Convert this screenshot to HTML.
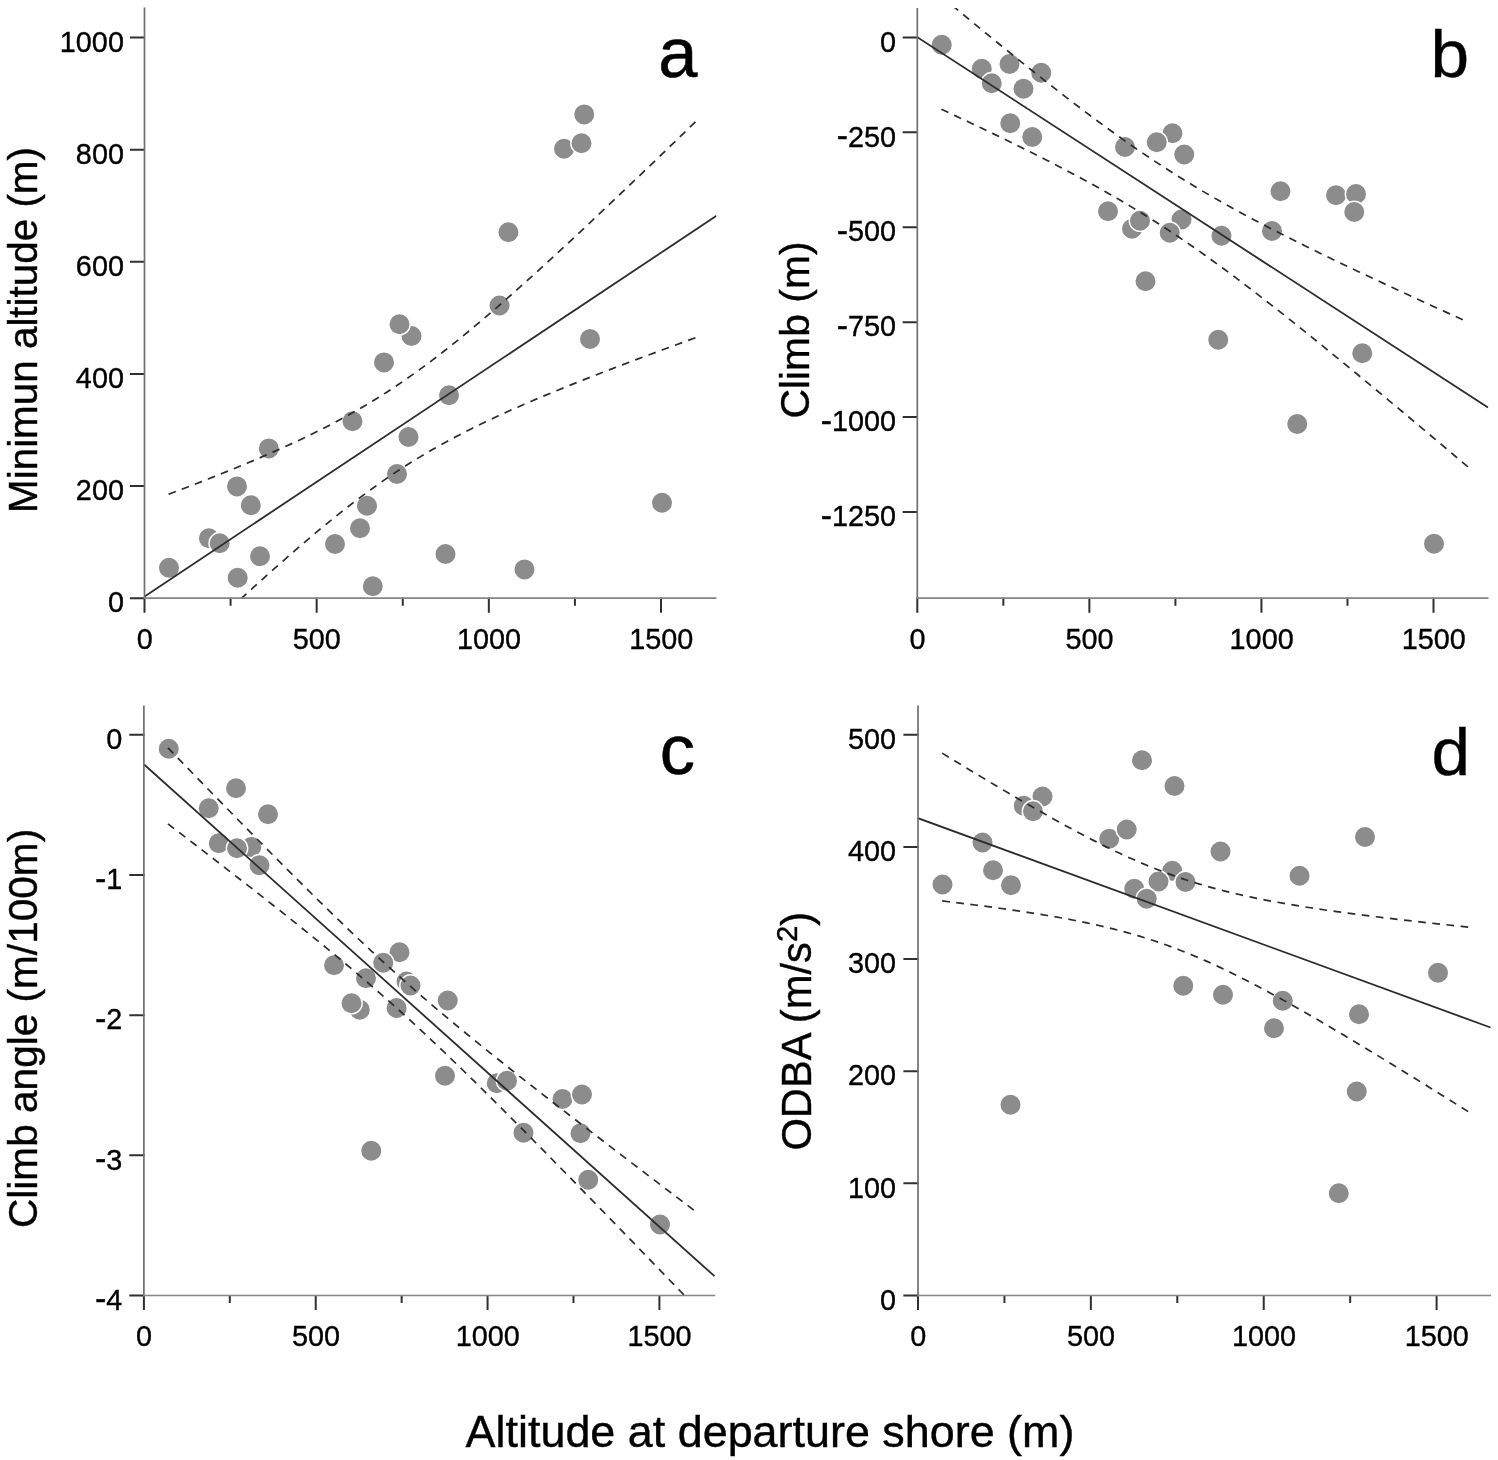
<!DOCTYPE html>
<html lang="en"><head><meta charset="utf-8"><title>Figure</title>
<style>html,body{margin:0;padding:0;background:#fff}svg{display:block}text{font-family:"Liberation Sans", Arial, Helvetica, sans-serif;fill:#000}</style></head><body>
<svg width="1498" height="1460" viewBox="0 0 1498 1460">
<rect width="1498" height="1460" fill="#fff"/>
<g id="panel-a">
<clipPath id="clip-a"><rect x="144.5" y="7.6" width="571.9" height="590.6"/></clipPath>
<g>
<circle cx="169" cy="567.7" r="10.7" fill="#8c8c8c" stroke="#fff" stroke-width="1.4"/>
<circle cx="208.9" cy="538.2" r="10.7" fill="#8c8c8c" stroke="#fff" stroke-width="1.4"/>
<circle cx="219.7" cy="543.2" r="10.7" fill="#8c8c8c" stroke="#fff" stroke-width="1.4"/>
<circle cx="237" cy="486.4" r="10.7" fill="#8c8c8c" stroke="#fff" stroke-width="1.4"/>
<circle cx="250.8" cy="505.2" r="10.7" fill="#8c8c8c" stroke="#fff" stroke-width="1.4"/>
<circle cx="237.7" cy="577.7" r="10.7" fill="#8c8c8c" stroke="#fff" stroke-width="1.4"/>
<circle cx="260" cy="556.2" r="10.7" fill="#8c8c8c" stroke="#fff" stroke-width="1.4"/>
<circle cx="268.8" cy="448.4" r="10.7" fill="#8c8c8c" stroke="#fff" stroke-width="1.4"/>
<circle cx="335" cy="544" r="10.7" fill="#8c8c8c" stroke="#fff" stroke-width="1.4"/>
<circle cx="360" cy="528.2" r="10.7" fill="#8c8c8c" stroke="#fff" stroke-width="1.4"/>
<circle cx="367" cy="505.7" r="10.7" fill="#8c8c8c" stroke="#fff" stroke-width="1.4"/>
<circle cx="372.8" cy="586.2" r="10.7" fill="#8c8c8c" stroke="#fff" stroke-width="1.4"/>
<circle cx="352.5" cy="421.2" r="10.7" fill="#8c8c8c" stroke="#fff" stroke-width="1.4"/>
<circle cx="397" cy="474" r="10.7" fill="#8c8c8c" stroke="#fff" stroke-width="1.4"/>
<circle cx="408.5" cy="437" r="10.7" fill="#8c8c8c" stroke="#fff" stroke-width="1.4"/>
<circle cx="384" cy="362.4" r="10.7" fill="#8c8c8c" stroke="#fff" stroke-width="1.4"/>
<circle cx="411.5" cy="336" r="10.7" fill="#8c8c8c" stroke="#fff" stroke-width="1.4"/>
<circle cx="399.5" cy="324.2" r="10.7" fill="#8c8c8c" stroke="#fff" stroke-width="1.4"/>
<circle cx="449" cy="395.2" r="10.7" fill="#8c8c8c" stroke="#fff" stroke-width="1.4"/>
<circle cx="445.5" cy="554" r="10.7" fill="#8c8c8c" stroke="#fff" stroke-width="1.4"/>
<circle cx="499.5" cy="305.5" r="10.7" fill="#8c8c8c" stroke="#fff" stroke-width="1.4"/>
<circle cx="508.4" cy="232.2" r="10.7" fill="#8c8c8c" stroke="#fff" stroke-width="1.4"/>
<circle cx="564" cy="148.7" r="10.7" fill="#8c8c8c" stroke="#fff" stroke-width="1.4"/>
<circle cx="581.5" cy="143.2" r="10.7" fill="#8c8c8c" stroke="#fff" stroke-width="1.4"/>
<circle cx="584.25" cy="114.4" r="10.7" fill="#8c8c8c" stroke="#fff" stroke-width="1.4"/>
<circle cx="590" cy="339" r="10.7" fill="#8c8c8c" stroke="#fff" stroke-width="1.4"/>
<circle cx="524.5" cy="569.4" r="10.7" fill="#8c8c8c" stroke="#fff" stroke-width="1.4"/>
<circle cx="662" cy="502.7" r="10.7" fill="#8c8c8c" stroke="#fff" stroke-width="1.4"/>
</g>
<g clip-path="url(#clip-a)" fill="none" stroke="#2b2b2b">
<line x1="144.6" y1="596.4" x2="716.5" y2="215.8" stroke-width="1.8"/>
<path d="M168.6 494.31L175.19 491.8L181.77 489.28L188.36 486.74L194.94 484.18L201.53 481.61L208.12 479.02L214.7 476.4L221.29 473.77L227.87 471.11L234.46 468.42L241.04 465.71L247.63 462.97L254.21 460.19L260.8 457.39L267.38 454.54L273.97 451.65L280.55 448.73L287.14 445.75L293.73 442.72L300.31 439.65L306.9 436.51L313.48 433.31L320.07 430.04L326.65 426.7L333.24 423.29L339.82 419.79L346.41 416.21L352.99 412.54L359.58 408.77L366.16 404.91L372.75 400.95L379.34 396.87L385.92 392.7L392.51 388.41L399.09 384.01L405.68 379.51L412.26 374.9L418.85 370.18L425.43 365.35L432.02 360.43L438.6 355.4L445.19 350.29L451.77 345.08L458.36 339.79L464.95 334.42L471.53 328.98L478.12 323.46L484.7 317.88L491.29 312.24L497.87 306.54L504.46 300.79L511.04 294.99L517.63 289.14L524.21 283.25L530.8 277.32L537.38 271.36L543.97 265.36L550.56 259.33L557.14 253.27L563.73 247.18L570.31 241.07L576.9 234.94L583.48 228.78L590.07 222.6L596.65 216.41L603.24 210.19L609.82 203.96L616.41 197.72L622.99 191.46L629.58 185.19L636.16 178.9L642.75 172.6L649.34 166.3L655.92 159.98L662.51 153.65L669.09 147.31L675.68 140.97L682.26 134.61L688.85 128.25L695.43 121.88" stroke-width="1.7" stroke-dasharray="7.7 6.311"/>
<path d="M168.6 666.54L175.19 660.28L181.77 654.04L188.36 647.82L194.94 641.61L201.53 635.42L208.12 629.24L214.7 623.09L221.29 616.96L227.87 610.86L234.46 604.78L241.04 598.72L247.63 592.7L254.21 586.71L260.8 580.75L267.38 574.83L273.97 568.95L280.55 563.12L287.14 557.33L293.73 551.59L300.31 545.9L306.9 540.28L313.48 534.71L320.07 529.21L326.65 523.79L333.24 518.44L339.82 513.17L346.41 507.98L352.99 502.89L359.58 497.89L366.16 492.99L372.75 488.19L379.34 483.49L385.92 478.9L392.51 474.43L399.09 470.06L405.68 465.8L412.26 461.65L418.85 457.6L425.43 453.66L432.02 449.82L438.6 446.08L445.19 442.43L451.77 438.87L458.36 435.39L464.95 432L471.53 428.68L478.12 425.43L484.7 422.24L491.29 419.12L497.87 416.05L504.46 413.04L511.04 410.08L517.63 407.16L524.21 404.28L530.8 401.45L537.38 398.65L543.97 395.88L550.56 393.15L557.14 390.44L563.73 387.76L570.31 385.11L576.9 382.48L583.48 379.87L590.07 377.28L596.65 374.71L603.24 372.16L609.82 369.62L616.41 367.1L622.99 364.6L629.58 362.1L636.16 359.62L642.75 357.16L649.34 354.7L655.92 352.25L662.51 349.82L669.09 347.39L675.68 344.97L682.26 342.56L688.85 340.16L695.43 337.76" stroke-width="1.7" stroke-dasharray="7.7 6.409"/>
</g>
<path d="M144.5 597.6v15.2M316.67 597.6v15.2M488.83 597.6v15.2M661 597.6v15.2M230.58 597.6v8.1M402.75 597.6v8.1M574.92 597.6v8.1M145.1 598.2h-15.2M145.1 486.07h-15.2M145.1 373.94h-15.2M145.1 261.81h-15.2M145.1 149.68h-15.2M145.1 37.55h-15.2" fill="none" stroke="#303030" stroke-width="2"/>
<path d="M144.5 7.6V599.1" fill="none" stroke="#707070" stroke-width="1.7"/>
<path d="M143.8 598.2H716.4" fill="none" stroke="#858585" stroke-width="1.7"/>
<g font-size="28.8" stroke="#000" stroke-width="0.35">
<text transform="translate(144.7 648.6) scale(1 1.05)" text-anchor="middle">0</text>
<text transform="translate(316.87 648.6) scale(1 1.05)" text-anchor="middle">500</text>
<text transform="translate(489.03 648.6) scale(1 1.05)" text-anchor="middle">1000</text>
<text transform="translate(661.2 648.6) scale(1 1.05)" text-anchor="middle">1500</text>
<text transform="translate(123.9 612.4) scale(1 1.05)" text-anchor="end">0</text>
<text transform="translate(123.9 500.27) scale(1 1.05)" text-anchor="end">200</text>
<text transform="translate(123.9 388.14) scale(1 1.05)" text-anchor="end">400</text>
<text transform="translate(123.9 276.01) scale(1 1.05)" text-anchor="end">600</text>
<text transform="translate(123.9 163.88) scale(1 1.05)" text-anchor="end">800</text>
<text transform="translate(123.9 51.75) scale(1 1.05)" text-anchor="end">1000</text>
</g>
<text x="677.88" y="77.3" font-size="70.5" text-anchor="middle" stroke="#000" stroke-width="0.5">a</text>
</g>
<g id="panel-b">
<clipPath id="clip-b"><rect x="917.3" y="8" width="571.2" height="590.2"/></clipPath>
<g>
<circle cx="941.75" cy="44.7" r="10.7" fill="#8c8c8c" stroke="#fff" stroke-width="1.4"/>
<circle cx="981.75" cy="68.7" r="10.7" fill="#8c8c8c" stroke="#fff" stroke-width="1.4"/>
<circle cx="991.75" cy="83.2" r="10.7" fill="#8c8c8c" stroke="#fff" stroke-width="1.4"/>
<circle cx="1009.5" cy="64" r="10.7" fill="#8c8c8c" stroke="#fff" stroke-width="1.4"/>
<circle cx="1023.5" cy="88.7" r="10.7" fill="#8c8c8c" stroke="#fff" stroke-width="1.4"/>
<circle cx="1041.25" cy="72.7" r="10.7" fill="#8c8c8c" stroke="#fff" stroke-width="1.4"/>
<circle cx="1010.25" cy="123.2" r="10.7" fill="#8c8c8c" stroke="#fff" stroke-width="1.4"/>
<circle cx="1032.25" cy="137" r="10.7" fill="#8c8c8c" stroke="#fff" stroke-width="1.4"/>
<circle cx="1108" cy="211.2" r="10.7" fill="#8c8c8c" stroke="#fff" stroke-width="1.4"/>
<circle cx="1125" cy="147" r="10.7" fill="#8c8c8c" stroke="#fff" stroke-width="1.4"/>
<circle cx="1172.5" cy="133.2" r="10.7" fill="#8c8c8c" stroke="#fff" stroke-width="1.4"/>
<circle cx="1156.75" cy="142.2" r="10.7" fill="#8c8c8c" stroke="#fff" stroke-width="1.4"/>
<circle cx="1184.25" cy="154.5" r="10.7" fill="#8c8c8c" stroke="#fff" stroke-width="1.4"/>
<circle cx="1280.5" cy="191.2" r="10.7" fill="#8c8c8c" stroke="#fff" stroke-width="1.4"/>
<circle cx="1336" cy="195.2" r="10.7" fill="#8c8c8c" stroke="#fff" stroke-width="1.4"/>
<circle cx="1356" cy="194" r="10.7" fill="#8c8c8c" stroke="#fff" stroke-width="1.4"/>
<circle cx="1354.25" cy="212" r="10.7" fill="#8c8c8c" stroke="#fff" stroke-width="1.4"/>
<circle cx="1132" cy="228.7" r="10.7" fill="#8c8c8c" stroke="#fff" stroke-width="1.4"/>
<circle cx="1140" cy="220.7" r="10.7" fill="#8c8c8c" stroke="#fff" stroke-width="1.4"/>
<circle cx="1181.5" cy="219.5" r="10.7" fill="#8c8c8c" stroke="#fff" stroke-width="1.4"/>
<circle cx="1169.75" cy="232.7" r="10.7" fill="#8c8c8c" stroke="#fff" stroke-width="1.4"/>
<circle cx="1221.5" cy="235.7" r="10.7" fill="#8c8c8c" stroke="#fff" stroke-width="1.4"/>
<circle cx="1272" cy="231" r="10.7" fill="#8c8c8c" stroke="#fff" stroke-width="1.4"/>
<circle cx="1145.5" cy="281.2" r="10.7" fill="#8c8c8c" stroke="#fff" stroke-width="1.4"/>
<circle cx="1218.25" cy="339.7" r="10.7" fill="#8c8c8c" stroke="#fff" stroke-width="1.4"/>
<circle cx="1362.25" cy="353.2" r="10.7" fill="#8c8c8c" stroke="#fff" stroke-width="1.4"/>
<circle cx="1297.25" cy="424" r="10.7" fill="#8c8c8c" stroke="#fff" stroke-width="1.4"/>
<circle cx="1434" cy="543.7" r="10.7" fill="#8c8c8c" stroke="#fff" stroke-width="1.4"/>
</g>
<g clip-path="url(#clip-b)" fill="none" stroke="#2b2b2b">
<line x1="917.3" y1="37.2" x2="1488" y2="407.5" stroke-width="1.8"/>
<path d="M941.39 -3.54L947.91 1.88L954.42 7.28L960.94 12.67L967.46 18.05L973.98 23.42L980.5 28.77L987.01 34.11L993.53 39.44L1000.05 44.74L1006.57 50.03L1013.08 55.3L1019.6 60.55L1026.12 65.77L1032.64 70.97L1039.15 76.15L1045.67 81.3L1052.19 86.42L1058.71 91.5L1065.22 96.56L1071.74 101.57L1078.26 106.55L1084.78 111.49L1091.29 116.38L1097.81 121.23L1104.33 126.03L1110.85 130.77L1117.37 135.47L1123.88 140.1L1130.4 144.68L1136.92 149.19L1143.44 153.65L1149.95 158.03L1156.47 162.36L1162.99 166.62L1169.51 170.81L1176.02 174.93L1182.54 179L1189.06 182.99L1195.58 186.93L1202.09 190.8L1208.61 194.62L1215.13 198.38L1221.65 202.08L1228.17 205.74L1234.68 209.34L1241.2 212.9L1247.72 216.42L1254.24 219.89L1260.75 223.33L1267.27 226.73L1273.79 230.1L1280.31 233.43L1286.82 236.74L1293.34 240.02L1299.86 243.27L1306.38 246.5L1312.89 249.71L1319.41 252.9L1325.93 256.06L1332.45 259.21L1338.96 262.35L1345.48 265.46L1352 268.57L1358.52 271.65L1365.04 274.73L1371.55 277.8L1378.07 280.85L1384.59 283.89L1391.11 286.92L1397.62 289.95L1404.14 292.96L1410.66 295.97L1417.18 298.97L1423.69 301.96L1430.21 304.94L1436.73 307.92L1443.25 310.89L1449.76 313.86L1456.28 316.82L1462.8 319.78" stroke-width="1.7" stroke-dasharray="7.7 6.459"/>
<path d="M941.39 109.2L947.97 112.27L954.55 115.36L961.13 118.45L967.72 121.56L974.3 124.68L980.88 127.82L987.46 130.97L994.04 134.14L1000.62 137.32L1007.2 140.52L1013.79 143.74L1020.37 146.99L1026.95 150.26L1033.53 153.55L1040.11 156.87L1046.69 160.21L1053.28 163.59L1059.86 167L1066.44 170.44L1073.02 173.93L1079.6 177.45L1086.18 181.01L1092.76 184.62L1099.35 188.28L1105.93 191.99L1112.51 195.75L1119.09 199.57L1125.67 203.44L1132.25 207.38L1138.84 211.38L1145.42 215.44L1152 219.57L1158.58 223.77L1165.16 228.03L1171.74 232.36L1178.33 236.76L1184.91 241.22L1191.49 245.75L1198.07 250.34L1204.65 254.99L1211.23 259.7L1217.81 264.47L1224.4 269.29L1230.98 274.16L1237.56 279.08L1244.14 284.05L1250.72 289.06L1257.3 294.11L1263.89 299.2L1270.47 304.32L1277.05 309.48L1283.63 314.66L1290.21 319.88L1296.79 325.13L1303.37 330.39L1309.96 335.69L1316.54 341L1323.12 346.33L1329.7 351.69L1336.28 357.06L1342.86 362.44L1349.45 367.85L1356.03 373.26L1362.61 378.69L1369.19 384.13L1375.77 389.59L1382.35 395.05L1388.93 400.53L1395.52 406.01L1402.1 411.51L1408.68 417.01L1415.26 422.52L1421.84 428.04L1428.42 433.56L1435.01 439.1L1441.59 444.63L1448.17 450.18L1454.75 455.73L1461.33 461.28L1467.91 466.84" stroke-width="1.7" stroke-dasharray="7.7 6.338"/>
</g>
<path d="M917.3 597.6v15.2M1089.37 597.6v15.2M1261.43 597.6v15.2M1433.5 597.6v15.2M1003.33 597.6v8.1M1175.4 597.6v8.1M1347.47 597.6v8.1M917.9 37.4h-15.2M917.9 132.32h-15.2M917.9 227.24h-15.2M917.9 322.16h-15.2M917.9 417.08h-15.2M917.9 512h-15.2" fill="none" stroke="#303030" stroke-width="2"/>
<path d="M917.3 8V599.1" fill="none" stroke="#707070" stroke-width="1.7"/>
<path d="M916.6 598.2H1488.5" fill="none" stroke="#858585" stroke-width="1.7"/>
<g font-size="28.8" stroke="#000" stroke-width="0.35">
<text transform="translate(917.5 648.6) scale(1 1.05)" text-anchor="middle">0</text>
<text transform="translate(1089.57 648.6) scale(1 1.05)" text-anchor="middle">500</text>
<text transform="translate(1261.63 648.6) scale(1 1.05)" text-anchor="middle">1000</text>
<text transform="translate(1433.7 648.6) scale(1 1.05)" text-anchor="middle">1500</text>
<text transform="translate(896 51.6) scale(1 1.05)" text-anchor="end">0</text>
<text transform="translate(896 146.52) scale(1 1.05)" text-anchor="end"><tspan font-size="34" dy="0.4">-</tspan><tspan dy="-0.4">250</tspan></text>
<text transform="translate(896 241.44) scale(1 1.05)" text-anchor="end"><tspan font-size="34" dy="0.4">-</tspan><tspan dy="-0.4">500</tspan></text>
<text transform="translate(896 336.36) scale(1 1.05)" text-anchor="end"><tspan font-size="34" dy="0.4">-</tspan><tspan dy="-0.4">750</tspan></text>
<text transform="translate(896 431.28) scale(1 1.05)" text-anchor="end"><tspan font-size="34" dy="0.4">-</tspan><tspan dy="-0.4">1000</tspan></text>
<text transform="translate(896 526.2) scale(1 1.05)" text-anchor="end"><tspan font-size="34" dy="0.4">-</tspan><tspan dy="-0.4">1250</tspan></text>
</g>
<text transform="translate(1449.72 77.3) scale(1.02 0.985)" font-size="68" text-anchor="middle" stroke="#000" stroke-width="0.4">b</text>
</g>
<g id="panel-c">
<clipPath id="clip-c"><rect x="143.9" y="705.6" width="571.3" height="589.9"/></clipPath>
<g>
<circle cx="168.75" cy="748.7" r="10.7" fill="#8c8c8c" stroke="#fff" stroke-width="1.4"/>
<circle cx="236" cy="788.2" r="10.7" fill="#8c8c8c" stroke="#fff" stroke-width="1.4"/>
<circle cx="208.75" cy="808.2" r="10.7" fill="#8c8c8c" stroke="#fff" stroke-width="1.4"/>
<circle cx="268" cy="814.2" r="10.7" fill="#8c8c8c" stroke="#fff" stroke-width="1.4"/>
<circle cx="218.75" cy="843.2" r="10.7" fill="#8c8c8c" stroke="#fff" stroke-width="1.4"/>
<circle cx="251.25" cy="847" r="10.7" fill="#8c8c8c" stroke="#fff" stroke-width="1.4"/>
<circle cx="237" cy="848.2" r="10.7" fill="#8c8c8c" stroke="#fff" stroke-width="1.4"/>
<circle cx="259.5" cy="865.2" r="10.7" fill="#8c8c8c" stroke="#fff" stroke-width="1.4"/>
<circle cx="334" cy="965.2" r="10.7" fill="#8c8c8c" stroke="#fff" stroke-width="1.4"/>
<circle cx="366" cy="978.2" r="10.7" fill="#8c8c8c" stroke="#fff" stroke-width="1.4"/>
<circle cx="359.75" cy="1009.7" r="10.7" fill="#8c8c8c" stroke="#fff" stroke-width="1.4"/>
<circle cx="351.5" cy="1003.2" r="10.7" fill="#8c8c8c" stroke="#fff" stroke-width="1.4"/>
<circle cx="399.5" cy="952.2" r="10.7" fill="#8c8c8c" stroke="#fff" stroke-width="1.4"/>
<circle cx="383.25" cy="962.7" r="10.7" fill="#8c8c8c" stroke="#fff" stroke-width="1.4"/>
<circle cx="406.5" cy="981.5" r="10.7" fill="#8c8c8c" stroke="#fff" stroke-width="1.4"/>
<circle cx="410.5" cy="985.5" r="10.7" fill="#8c8c8c" stroke="#fff" stroke-width="1.4"/>
<circle cx="447.75" cy="1000.5" r="10.7" fill="#8c8c8c" stroke="#fff" stroke-width="1.4"/>
<circle cx="396.6" cy="1008" r="10.7" fill="#8c8c8c" stroke="#fff" stroke-width="1.4"/>
<circle cx="371.25" cy="1150.7" r="10.7" fill="#8c8c8c" stroke="#fff" stroke-width="1.4"/>
<circle cx="445" cy="1075.7" r="10.7" fill="#8c8c8c" stroke="#fff" stroke-width="1.4"/>
<circle cx="496.75" cy="1083.2" r="10.7" fill="#8c8c8c" stroke="#fff" stroke-width="1.4"/>
<circle cx="507" cy="1080.7" r="10.7" fill="#8c8c8c" stroke="#fff" stroke-width="1.4"/>
<circle cx="562.5" cy="1099" r="10.7" fill="#8c8c8c" stroke="#fff" stroke-width="1.4"/>
<circle cx="582" cy="1094.5" r="10.7" fill="#8c8c8c" stroke="#fff" stroke-width="1.4"/>
<circle cx="523.5" cy="1132.7" r="10.7" fill="#8c8c8c" stroke="#fff" stroke-width="1.4"/>
<circle cx="580.5" cy="1133.2" r="10.7" fill="#8c8c8c" stroke="#fff" stroke-width="1.4"/>
<circle cx="588.25" cy="1179.7" r="10.7" fill="#8c8c8c" stroke="#fff" stroke-width="1.4"/>
<circle cx="660" cy="1224.5" r="10.7" fill="#8c8c8c" stroke="#fff" stroke-width="1.4"/>
</g>
<g clip-path="url(#clip-c)" fill="none" stroke="#2b2b2b">
<line x1="144.1" y1="764.5" x2="714.5" y2="1276.2" stroke-width="1.8"/>
<path d="M167.96 747.91L174.53 754.68L181.1 761.44L187.67 768.2L194.25 774.95L200.82 781.7L207.39 788.44L213.97 795.17L220.54 801.89L227.11 808.6L233.68 815.3L240.26 821.99L246.83 828.67L253.4 835.34L259.97 842L266.55 848.63L273.12 855.26L279.69 861.86L286.26 868.45L292.84 875.01L299.41 881.55L305.98 888.07L312.55 894.56L319.13 901.02L325.7 907.44L332.27 913.84L338.84 920.19L345.42 926.5L351.99 932.78L358.56 939L365.14 945.18L371.71 951.3L378.28 957.38L384.85 963.4L391.43 969.36L398 975.27L404.57 981.12L411.14 986.91L417.72 992.65L424.29 998.34L430.86 1003.98L437.43 1009.56L444.01 1015.1L450.58 1020.59L457.15 1026.05L463.72 1031.46L470.3 1036.84L476.87 1042.19L483.44 1047.5L490.02 1052.79L496.59 1058.05L503.16 1063.29L509.73 1068.5L516.31 1073.7L522.88 1078.87L529.45 1084.03L536.02 1089.18L542.6 1094.31L549.17 1099.43L555.74 1104.53L562.31 1109.62L568.89 1114.71L575.46 1119.78L582.03 1124.85L588.6 1129.91L595.18 1134.96L601.75 1140L608.32 1145.04L614.9 1150.07L621.47 1155.09L628.04 1160.11L634.61 1165.13L641.19 1170.14L647.76 1175.14L654.33 1180.15L660.9 1185.14L667.48 1190.14L674.05 1195.13L680.62 1200.12L687.19 1205.11L693.77 1210.09" stroke-width="1.7" stroke-dasharray="7.7 6.454"/>
<path d="M167.96 823.89L174.53 828.92L181.1 833.95L187.67 838.98L194.25 844.02L200.82 849.07L207.39 854.12L213.97 859.19L220.54 864.26L227.11 869.34L233.68 874.43L240.26 879.53L246.83 884.64L253.4 889.76L259.97 894.9L266.55 900.06L273.12 905.23L279.69 910.41L286.26 915.62L292.84 920.85L299.41 926.1L305.98 931.38L312.55 936.68L319.13 942.01L325.7 947.38L332.27 952.78L338.84 958.22L345.42 963.7L351.99 969.22L358.56 974.78L365.14 980.4L371.71 986.07L378.28 991.78L384.85 997.56L391.43 1003.39L398 1009.27L404.57 1015.21L411.14 1021.21L417.72 1027.26L424.29 1033.37L430.86 1039.53L437.43 1045.73L444.01 1051.99L450.58 1058.28L457.15 1064.62L463.72 1071L470.3 1077.41L476.87 1083.86L483.44 1090.34L490.02 1096.84L496.59 1103.38L503.16 1109.93L509.73 1116.51L516.31 1123.11L522.88 1129.72L529.45 1136.35L536.02 1143L542.6 1149.67L549.17 1156.34L555.74 1163.03L562.31 1169.73L568.89 1176.44L575.46 1183.15L582.03 1189.88L588.6 1196.62L595.18 1203.36L601.75 1210.11L608.32 1216.86L614.9 1223.62L621.47 1230.39L628.04 1237.16L634.61 1243.94L641.19 1250.72L647.76 1257.51L654.33 1264.3L660.9 1271.09L667.48 1277.89L674.05 1284.69L680.62 1291.5L687.19 1298.3L693.77 1305.11" stroke-width="1.7" stroke-dasharray="7.7 6.424"/>
</g>
<path d="M143.9 1294.9v15.2M315.73 1294.9v15.2M487.57 1294.9v15.2M659.4 1294.9v15.2M229.82 1294.9v8.1M401.65 1294.9v8.1M573.48 1294.9v8.1M144.5 734.8h-15.2M144.5 874.97h-15.2M144.5 1015.15h-15.2M144.5 1155.33h-15.2M144.5 1295.5h-15.2" fill="none" stroke="#303030" stroke-width="2"/>
<path d="M143.9 705.6V1296.4" fill="none" stroke="#707070" stroke-width="1.7"/>
<path d="M143.2 1295.5H715.2" fill="none" stroke="#858585" stroke-width="1.7"/>
<g font-size="28.8" stroke="#000" stroke-width="0.35">
<text transform="translate(144.1 1345.9) scale(1 1.05)" text-anchor="middle">0</text>
<text transform="translate(315.93 1345.9) scale(1 1.05)" text-anchor="middle">500</text>
<text transform="translate(487.77 1345.9) scale(1 1.05)" text-anchor="middle">1000</text>
<text transform="translate(659.6 1345.9) scale(1 1.05)" text-anchor="middle">1500</text>
<text transform="translate(122.3 749) scale(1 1.05)" text-anchor="end">0</text>
<text transform="translate(122.3 889.17) scale(1 1.05)" text-anchor="end"><tspan font-size="34" dy="0.4">-</tspan><tspan dy="-0.4">1</tspan></text>
<text transform="translate(122.3 1029.35) scale(1 1.05)" text-anchor="end"><tspan font-size="34" dy="0.4">-</tspan><tspan dy="-0.4">2</tspan></text>
<text transform="translate(122.3 1169.53) scale(1 1.05)" text-anchor="end"><tspan font-size="34" dy="0.4">-</tspan><tspan dy="-0.4">3</tspan></text>
<text transform="translate(122.3 1309.7) scale(1 1.05)" text-anchor="end"><tspan font-size="34" dy="0.4">-</tspan><tspan dy="-0.4">4</tspan></text>
</g>
<text x="677.3" y="774.3" font-size="70.5" text-anchor="middle" stroke="#000" stroke-width="0.5">c</text>
</g>
<g id="panel-d">
<clipPath id="clip-d"><rect x="918" y="705.6" width="573" height="589.9"/></clipPath>
<g>
<circle cx="942.5" cy="884.5" r="10.7" fill="#8c8c8c" stroke="#fff" stroke-width="1.4"/>
<circle cx="982.5" cy="842.5" r="10.7" fill="#8c8c8c" stroke="#fff" stroke-width="1.4"/>
<circle cx="993" cy="870.2" r="10.7" fill="#8c8c8c" stroke="#fff" stroke-width="1.4"/>
<circle cx="1011" cy="885.2" r="10.7" fill="#8c8c8c" stroke="#fff" stroke-width="1.4"/>
<circle cx="1023.75" cy="805.7" r="10.7" fill="#8c8c8c" stroke="#fff" stroke-width="1.4"/>
<circle cx="1042.5" cy="796.5" r="10.7" fill="#8c8c8c" stroke="#fff" stroke-width="1.4"/>
<circle cx="1033" cy="811.2" r="10.7" fill="#8c8c8c" stroke="#fff" stroke-width="1.4"/>
<circle cx="1109.25" cy="838.7" r="10.7" fill="#8c8c8c" stroke="#fff" stroke-width="1.4"/>
<circle cx="1126.75" cy="829.5" r="10.7" fill="#8c8c8c" stroke="#fff" stroke-width="1.4"/>
<circle cx="1142" cy="760.2" r="10.7" fill="#8c8c8c" stroke="#fff" stroke-width="1.4"/>
<circle cx="1174.5" cy="786" r="10.7" fill="#8c8c8c" stroke="#fff" stroke-width="1.4"/>
<circle cx="1220.5" cy="851.5" r="10.7" fill="#8c8c8c" stroke="#fff" stroke-width="1.4"/>
<circle cx="1365" cy="837" r="10.7" fill="#8c8c8c" stroke="#fff" stroke-width="1.4"/>
<circle cx="1299.5" cy="875.7" r="10.7" fill="#8c8c8c" stroke="#fff" stroke-width="1.4"/>
<circle cx="1172.25" cy="870.7" r="10.7" fill="#8c8c8c" stroke="#fff" stroke-width="1.4"/>
<circle cx="1158.5" cy="881.5" r="10.7" fill="#8c8c8c" stroke="#fff" stroke-width="1.4"/>
<circle cx="1185.5" cy="882" r="10.7" fill="#8c8c8c" stroke="#fff" stroke-width="1.4"/>
<circle cx="1134.25" cy="888.7" r="10.7" fill="#8c8c8c" stroke="#fff" stroke-width="1.4"/>
<circle cx="1146.75" cy="898.7" r="10.7" fill="#8c8c8c" stroke="#fff" stroke-width="1.4"/>
<circle cx="1183.25" cy="985.7" r="10.7" fill="#8c8c8c" stroke="#fff" stroke-width="1.4"/>
<circle cx="1223" cy="994.7" r="10.7" fill="#8c8c8c" stroke="#fff" stroke-width="1.4"/>
<circle cx="1282.75" cy="1000.7" r="10.7" fill="#8c8c8c" stroke="#fff" stroke-width="1.4"/>
<circle cx="1274" cy="1028.2" r="10.7" fill="#8c8c8c" stroke="#fff" stroke-width="1.4"/>
<circle cx="1359" cy="1014.2" r="10.7" fill="#8c8c8c" stroke="#fff" stroke-width="1.4"/>
<circle cx="1438" cy="972.7" r="10.7" fill="#8c8c8c" stroke="#fff" stroke-width="1.4"/>
<circle cx="1356.75" cy="1091.5" r="10.7" fill="#8c8c8c" stroke="#fff" stroke-width="1.4"/>
<circle cx="1338.75" cy="1193.2" r="10.7" fill="#8c8c8c" stroke="#fff" stroke-width="1.4"/>
<circle cx="1010.5" cy="1104.7" r="10.7" fill="#8c8c8c" stroke="#fff" stroke-width="1.4"/>
</g>
<g clip-path="url(#clip-d)" fill="none" stroke="#2b2b2b">
<line x1="918" y1="818.2" x2="1490.5" y2="1027.5" stroke-width="1.8"/>
<path d="M942.2 753.13L948.78 757.16L955.35 761.18L961.93 765.19L968.5 769.18L975.08 773.16L981.65 777.12L988.23 781.06L994.8 784.99L1001.38 788.89L1007.95 792.78L1014.53 796.64L1021.1 800.48L1027.68 804.29L1034.25 808.07L1040.83 811.82L1047.4 815.54L1053.98 819.22L1060.55 822.86L1067.13 826.46L1073.7 830.02L1080.28 833.52L1086.85 836.97L1093.43 840.37L1100 843.7L1106.58 846.97L1113.15 850.17L1119.73 853.29L1126.3 856.33L1132.88 859.3L1139.45 862.17L1146.03 864.96L1152.6 867.66L1159.18 870.26L1165.75 872.76L1172.33 875.17L1178.9 877.48L1185.48 879.69L1192.05 881.81L1198.63 883.84L1205.2 885.78L1211.78 887.63L1218.35 889.4L1224.93 891.09L1231.5 892.71L1238.08 894.25L1244.65 895.73L1251.23 897.15L1257.8 898.51L1264.38 899.82L1270.95 901.07L1277.53 902.28L1284.1 903.45L1290.68 904.58L1297.25 905.68L1303.83 906.73L1310.4 907.76L1316.98 908.76L1323.55 909.73L1330.13 910.68L1336.7 911.6L1343.28 912.51L1349.85 913.39L1356.43 914.26L1363 915.1L1369.58 915.93L1376.15 916.75L1382.73 917.55L1389.3 918.34L1395.88 919.12L1402.45 919.89L1409.03 920.65L1415.6 921.39L1422.18 922.13L1428.75 922.86L1435.33 923.58L1441.9 924.29L1448.48 925L1455.05 925.69L1461.63 926.39L1468.2 927.07" stroke-width="1.7" stroke-dasharray="7.7 6.513"/>
<path d="M942.2 900.96L948.78 901.74L955.35 902.53L961.93 903.33L968.5 904.15L975.08 904.98L981.65 905.82L988.23 906.69L994.8 907.57L1001.38 908.47L1007.95 909.39L1014.53 910.34L1021.1 911.31L1027.68 912.3L1034.25 913.33L1040.83 914.38L1047.4 915.47L1053.98 916.6L1060.55 917.77L1067.13 918.97L1073.7 920.23L1080.28 921.53L1086.85 922.89L1093.43 924.3L1100 925.77L1106.58 927.31L1113.15 928.92L1119.73 930.61L1126.3 932.37L1132.88 934.22L1139.45 936.15L1146.03 938.17L1152.6 940.28L1159.18 942.49L1165.75 944.79L1172.33 947.19L1178.9 949.69L1185.48 952.28L1192.05 954.97L1198.63 957.75L1205.2 960.62L1211.78 963.57L1218.35 966.61L1224.93 969.73L1231.5 972.92L1238.08 976.18L1244.65 979.51L1251.23 982.9L1257.8 986.35L1264.38 989.85L1270.95 993.4L1277.53 996.99L1284.1 1000.63L1290.68 1004.31L1297.25 1008.02L1303.83 1011.77L1310.4 1015.55L1316.98 1019.36L1323.55 1023.2L1330.13 1027.06L1336.7 1030.94L1343.28 1034.84L1349.85 1038.77L1356.43 1042.71L1363 1046.67L1369.58 1050.65L1376.15 1054.64L1382.73 1058.64L1389.3 1062.66L1395.88 1066.69L1402.45 1070.73L1409.03 1074.78L1415.6 1078.84L1422.18 1082.91L1428.75 1086.99L1435.33 1091.08L1441.9 1095.17L1448.48 1099.28L1455.05 1103.39L1461.63 1107.5L1468.2 1111.62" stroke-width="1.7" stroke-dasharray="7.7 6.465"/>
</g>
<path d="M918 1294.9v15.2M1090.87 1294.9v15.2M1263.73 1294.9v15.2M1436.6 1294.9v15.2M1004.43 1294.9v8.1M1177.3 1294.9v8.1M1350.17 1294.9v8.1M918.6 1295.5h-15.2M918.6 1183.36h-15.2M918.6 1071.22h-15.2M918.6 959.08h-15.2M918.6 846.94h-15.2M918.6 734.8h-15.2" fill="none" stroke="#303030" stroke-width="2"/>
<path d="M918 705.6V1296.4" fill="none" stroke="#707070" stroke-width="1.7"/>
<path d="M917.3 1295.5H1491" fill="none" stroke="#858585" stroke-width="1.7"/>
<g font-size="28.8" stroke="#000" stroke-width="0.35">
<text transform="translate(918.2 1345.9) scale(1 1.05)" text-anchor="middle">0</text>
<text transform="translate(1091.07 1345.9) scale(1 1.05)" text-anchor="middle">500</text>
<text transform="translate(1263.93 1345.9) scale(1 1.05)" text-anchor="middle">1000</text>
<text transform="translate(1436.8 1345.9) scale(1 1.05)" text-anchor="middle">1500</text>
<text transform="translate(896 1309.7) scale(1 1.05)" text-anchor="end">0</text>
<text transform="translate(896 1197.56) scale(1 1.05)" text-anchor="end">100</text>
<text transform="translate(896 1085.42) scale(1 1.05)" text-anchor="end">200</text>
<text transform="translate(896 973.28) scale(1 1.05)" text-anchor="end">300</text>
<text transform="translate(896 861.14) scale(1 1.05)" text-anchor="end">400</text>
<text transform="translate(896 749) scale(1 1.05)" text-anchor="end">500</text>
</g>
<text transform="translate(1450.85 774.8) scale(1.02 0.985)" font-size="68" text-anchor="middle" stroke="#000" stroke-width="0.4">d</text>
</g>
<text transform="translate(36.9 330) rotate(-90)" font-size="40.4" text-anchor="middle" stroke="#000" stroke-width="0.4">Minimun altitude (m)</text>
<text transform="translate(808.7 330) rotate(-90)" font-size="40.9" text-anchor="middle" stroke="#000" stroke-width="0.4">Climb (m)</text>
<text transform="translate(36.9 1028.4) rotate(-90)" font-size="40.6" text-anchor="middle" stroke="#000" stroke-width="0.4">Climb angle (m/100m)</text>
<text transform="translate(811.4 1031.2) rotate(-90)" font-size="41.7" text-anchor="middle" stroke="#000" stroke-width="0.4">ODBA (m/s<tspan font-size="29.5" dy="-14">2</tspan><tspan dy="14">)</tspan></text>
<text x="770" y="1446.6" font-size="44.9" text-anchor="middle" stroke="#000" stroke-width="0.4">Altitude at departure shore (m)</text>
</svg></body></html>
